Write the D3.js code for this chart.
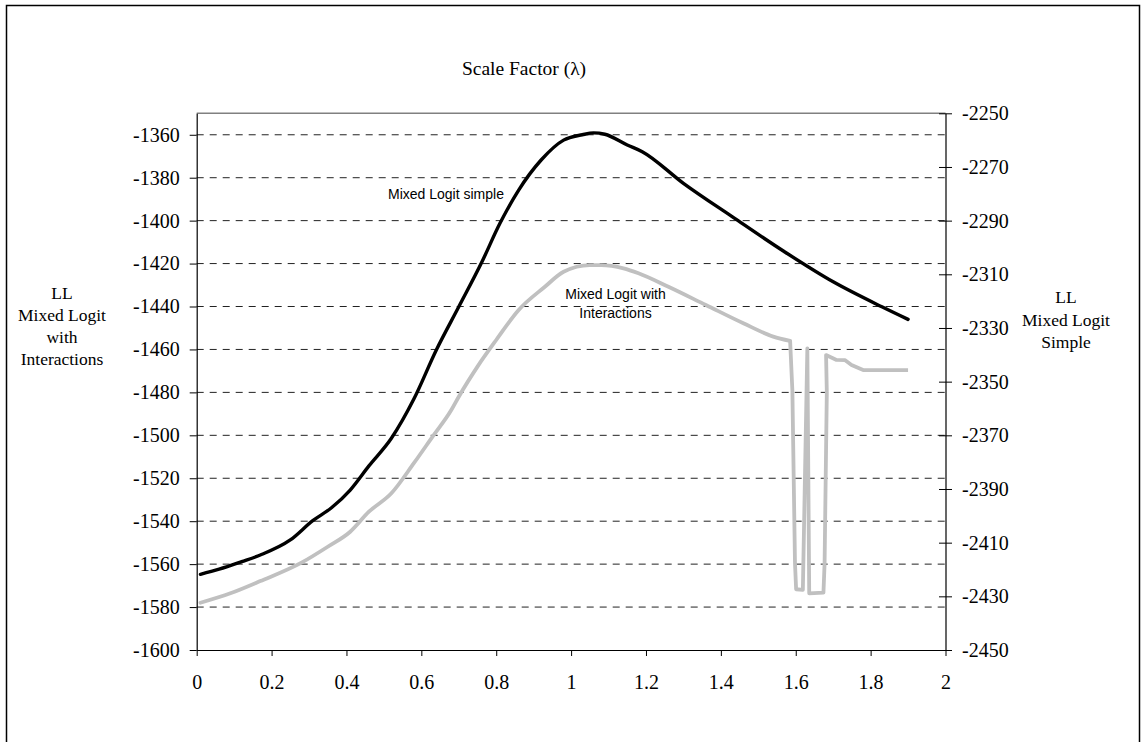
<!DOCTYPE html>
<html>
<head>
<meta charset="utf-8">
<script src="https://cdn.jsdelivr.net/npm/d3@7"></script>
<style>
  body { margin: 0; background: #fff; }
</style>
</head>
<body>
<svg id="chart" width="1141" height="742" font-family="Liberation Serif, Times New Roman, serif"></svg>
<script>
// Mixed Logit simple (right axis)
var lambdaSimple = [0.01, 0.06, 0.12, 0.17, 0.25, 0.31, 0.36, 0.41, 0.46, 0.52, 0.58, 0.64, 0.70, 0.76, 0.81, 0.86, 0.92, 0.98, 1.03, 1.06, 1.09, 1.15, 1.19, 1.30, 1.43, 1.57, 1.70, 1.83, 1.90];
var llSimple = [-2421.8, -2419.9, -2417.1, -2414.6, -2409, -2401.8, -2397, -2390.4, -2381.4, -2371.1, -2356.5, -2338.2, -2322.1, -2305.9, -2291, -2278.6, -2267.4, -2260, -2258, -2257.3, -2257.8, -2261.8, -2264.3, -2276.1, -2288.5, -2301.6, -2312.8, -2322.1, -2326.8];

// Mixed Logit with Interactions (left axis)
var lambdaInter = [0.01, 0.09, 0.17, 0.28, 0.35, 0.41, 0.46, 0.52, 0.58, 0.63, 0.68, 0.70, 0.75, 0.80, 0.86, 0.93, 0.98, 1.05, 1.08, 1.14, 1.18, 1.26, 1.36, 1.46, 1.54, 1.585, 1.591, 1.598, 1.601, 1.619, 1.631, 1.636, 1.674, 1.677, 1.683, 1.681, 1.709, 1.732, 1.749, 1.78, 1.90];
var llInter = [-1578, -1573.6, -1567.9, -1559.3, -1551.9, -1544.9, -1535.6, -1527, -1513, -1500.6, -1488.2, -1482, -1468, -1455.6, -1441.6, -1430.8, -1423.8, -1420.7, -1420.7, -1422.2, -1424.5, -1430.8, -1439.3, -1447.8, -1454, -1456, -1479, -1559.6, -1571.7, -1572, -1459.5, -1573.6, -1573.3, -1560, -1480, -1462.6, -1464.9, -1465, -1467.2, -1469.6, -1469.6];

var xTicks = [0, 0.2, 0.4, 0.6, 0.8, 1, 1.2, 1.4, 1.6, 1.8, 2];
var leftTicks = d3.range(-1600, -1359, 20);
var rightTicks = d3.range(-2450, -2249, 20);

var svg = d3.select("#chart");
var pLeft = 196.7, pRight = 945.5, pTop = 113.3, pBottom = 650;

var x = d3.scaleLinear().domain([0, 2]).range([pLeft, pRight]);
var yL = d3.scaleLinear().domain([-1600, -1350]).range([pBottom, pTop]);
var yR = d3.scaleLinear().domain([-2450, -2250]).range([pBottom, pTop]);

// outer frame
svg.append("rect")
   .attr("x", 6.5).attr("y", 5.5)
   .attr("width", 1133).attr("height", 745)
   .attr("fill", "none").attr("stroke", "#000").attr("stroke-width", 1.5);

// dashed gridlines
svg.append("g")
   .selectAll("line")
   .data(leftTicks.slice(1))
   .enter().append("line")
   .attr("x1", pLeft).attr("x2", pRight)
   .attr("y1", function (d) { return yL(d); })
   .attr("y2", function (d) { return yL(d); })
   .attr("stroke", "#222")
   .attr("stroke-dasharray", "7,6");

// top border of plot area
svg.append("line")
   .attr("x1", pLeft).attr("x2", pRight)
   .attr("y1", pTop).attr("y2", pTop)
   .attr("stroke", "#808080").attr("stroke-width", 1.5);

var fmt = function (d) { return String(d); };

// left axis
var gL = svg.append("g")
   .attr("transform", "translate(" + pLeft + ",0)")
   .call(d3.axisLeft(yL).tickValues(leftTicks).tickFormat(fmt).tickSize(7).tickPadding(10).tickSizeOuter(0));

// right axis
var gR = svg.append("g")
   .attr("transform", "translate(" + pRight + ",0)")
   .call(d3.axisRight(yR).tickValues(rightTicks).tickFormat(fmt).tickSize(6.5).tickPadding(10).tickSizeOuter(0));
gR.selectAll(".tick line").attr("x1", -6.5).attr("x2", 6.5);

// bottom axis
var gB = svg.append("g")
   .attr("transform", "translate(0," + pBottom + ")")
   .call(d3.axisBottom(x).tickValues(xTicks).tickFormat(function (d) { return String(+d.toFixed(1)); }).tickSize(6).tickPadding(19).tickSizeOuter(0));

[gL, gR, gB].forEach(function (g) {
  g.attr("font-family", "Liberation Serif, Times New Roman, serif").attr("font-size", 20);
  g.select(".domain").attr("stroke", "#000").attr("stroke-width", 1.2);
  g.selectAll(".tick line").attr("stroke", "#000");
  g.selectAll("text").attr("fill", "#000");
});

// series
var line = function (yScale, curve) {
  return d3.line()
    .curve(curve)
    .x(function (d) { return x(d[0]); })
    .y(function (d) { return yScale(d[1]); });
};

var interData = lambdaInter.map(function (l, i) { return [l, llInter[i]]; });
var simpleData = lambdaSimple.map(function (l, i) { return [l, llSimple[i]]; });

// smooth part up to the jump, then the spikes with straight segments
var cut = 25;
svg.append("path")
   .datum(interData.slice(0, cut + 1))
   .attr("d", line(yL, d3.curveMonotoneX))
   .attr("fill", "none")
   .attr("stroke", "#c0c0c0")
   .attr("stroke-width", 3.8)
   .attr("stroke-linecap", "round");

svg.append("path")
   .datum(interData.slice(cut))
   .attr("d", line(yL, d3.curveLinear))
   .attr("fill", "none")
   .attr("stroke", "#c0c0c0")
   .attr("stroke-width", 3.8)
   .attr("stroke-linejoin", "round");

svg.append("path")
   .datum(simpleData)
   .attr("d", line(yR, d3.curveMonotoneX))
   .attr("fill", "none")
   .attr("stroke", "#000")
   .attr("stroke-width", 3.4)
   .attr("stroke-linecap", "round");

// title
svg.append("text")
   .attr("x", 524).attr("y", 75)
   .attr("text-anchor", "middle")
   .attr("font-size", "19.5px")
   .text("Scale Factor (\u03bb)");

// axis titles
var multi = function (lines, cx, y0, step) {
  var t = svg.append("text")
     .attr("text-anchor", "middle")
     .attr("font-size", "17.5px");
  lines.forEach(function (s, i) {
    t.append("tspan").attr("x", cx).attr("y", y0 + i * step).text(s);
  });
};
multi(["LL", "Mixed Logit", "with", "Interactions"], 62, 299, 22);
multi(["LL", "Mixed Logit", "Simple"], 1066, 303, 22.5);

// inline series labels
svg.append("text")
   .attr("x", 388).attr("y", 199)
   .attr("font-family", "Liberation Sans, Arial, sans-serif")
   .attr("font-size", "14px")
   .text("Mixed Logit simple");

var lab = svg.append("text")
   .attr("text-anchor", "middle")
   .attr("font-family", "Liberation Sans, Arial, sans-serif")
   .attr("font-size", "14px");
lab.append("tspan").attr("x", 615.5).attr("y", 299).text("Mixed Logit with");
lab.append("tspan").attr("x", 615.5).attr("y", 318).text("Interactions");
</script>
</body>
</html>
